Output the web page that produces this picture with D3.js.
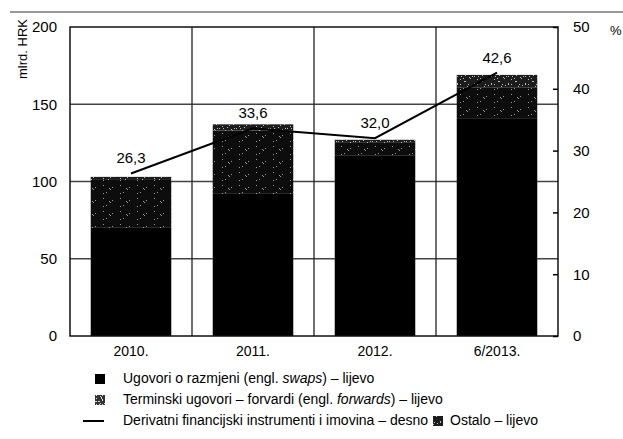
<!DOCTYPE html>
<html><head><meta charset="utf-8">
<script src="https://cdn.jsdelivr.net/npm/d3@7"></script>
<style>
body{margin:0;background:#fff;}
svg{display:block;font-family:"Liberation Sans Narrow","Arial Narrow","Liberation Sans",sans-serif;}
</style></head>
<body><svg id="c" width="623" height="439"></svg>
<script>
const categories = ["2010.", "2011.", "2012.", "6/2013."];
const swaps = [70, 92, 117, 141];
const forwards = [31, 41, 8, 20];
const ostalo = [2, 4, 2, 8];
const derivPct = [26.3, 33.6, 32.0, 42.6];
const pctLabels = ["26,3", "33,6", "32,0", "42,6"];
const leftTicks = [0, 50, 100, 150, 200];
const rightTicks = [0, 10, 20, 30, 40, 50];

const svg = d3.select("#c");
const L = 70, R = 558, T = 27, B = 336;

// patterns
const defs = svg.append("defs");
function speckle(id, bg, n, seed, col) {
  const p = defs.append("pattern").attr("id", id).attr("patternUnits", "userSpaceOnUse")
    .attr("width", 17).attr("height", 13);
  p.append("rect").attr("width", 17).attr("height", 13).attr("fill", bg);
  let s = seed;
  for (let i = 0; i < n; i++) {
    s = (s * 9301 + 49297) % 233280; const x = Math.floor(s / 233280 * 17);
    s = (s * 9301 + 49297) % 233280; const y = Math.floor(s / 233280 * 13);
    p.append("rect").attr("x", x).attr("y", y).attr("width", 1).attr("height", 1).attr("fill", col);
  }
}
speckle("pF", "#0d0d0d", 6, 7, "#999");
speckle("pO", "#1c1c1c", 18, 13, "#bbb");
speckle("pL", "#333", 40, 21, "#ddd");

// top rule
svg.append("line").attr("x1", 10).attr("x2", 623).attr("y1", 12).attr("y2", 12)
  .attr("stroke", "#333").attr("stroke-width", 1);

const x = d3.scaleBand().domain(categories).range([L, R]).padding(0);
const yL = d3.scaleLinear().domain([0, 200]).range([B, T]);
const yR = d3.scaleLinear().domain([0, 50]).range([B, T]);

// gridlines
const g = svg.append("g");
g.selectAll(".hg").data(leftTicks.filter(d => d > 0 && d < 200)).join("line")
  .attr("x1", L).attr("x2", R).attr("y1", d => yL(d)).attr("y2", d => yL(d))
  .attr("stroke", "#444").attr("stroke-width", 1.3);
g.selectAll(".vg").data(categories.slice(1)).join("line")
  .attr("x1", d => x(d)).attr("x2", d => x(d)).attr("y1", T).attr("y2", B)
  .attr("stroke", "#222").attr("stroke-width", 1.3);

// stacked bars
const rows = categories.map((c, i) => ({cat: c, swaps: swaps[i], forwards: forwards[i], ostalo: ostalo[i]}));
const stack = d3.stack().keys(["swaps", "forwards", "ostalo"])(rows);
const fills = {swaps: "#000", forwards: "url(#pF)", ostalo: "url(#pO)"};
const bw = x.bandwidth() * 0.66;
stack.forEach(layer => {
  svg.append("g").selectAll("rect").data(layer).join("rect")
    .attr("x", d => x(d.data.cat) + (x.bandwidth() - bw) / 2)
    .attr("width", bw)
    .attr("y", d => yL(d[1]))
    .attr("height", d => yL(d[0]) - yL(d[1]))
    .attr("fill", fills[layer.key]);
});

// frame
svg.append("rect").attr("x", L).attr("y", T).attr("width", R - L).attr("height", B - T)
  .attr("fill", "none").attr("stroke", "#111").attr("stroke-width", 1.5);

// line
const line = d3.line().x((d, i) => x(categories[i]) + x.bandwidth() / 2).y(d => yR(d));
svg.append("path").datum(derivPct).attr("d", line).attr("fill", "none")
  .attr("stroke", "#000").attr("stroke-width", 2);
svg.append("g").selectAll("text").data(derivPct).join("text")
  .attr("x", (d, i) => x(categories[i]) + x.bandwidth() / 2)
  .attr("y", d => yR(d) - 10)
  .attr("text-anchor", "middle").attr("font-size", 15).attr("fill", "#000")
  .text((d, i) => pctLabels[i]);

// axes
const axL = svg.append("g").attr("transform", `translate(${L},0)`)
  .call(d3.axisLeft(yL).tickValues(leftTicks).tickSize(0).tickPadding(13));
axL.select(".domain").remove();
axL.selectAll("text").attr("font-size", 15).attr("font-family", "inherit").attr("fill", "#000");

const axR = svg.append("g").attr("transform", `translate(${R},0)`)
  .call(d3.axisRight(yR).tickValues(rightTicks).tickSizeInner(-5).tickSizeOuter(0).tickPadding(15));
axR.select(".domain").remove();
axR.selectAll("line").attr("stroke", "#000").attr("stroke-width", 1.5);
axR.selectAll("text").attr("font-size", 15).attr("font-family", "inherit").attr("fill", "#000");

const axB = svg.append("g").attr("transform", `translate(0,${B})`)
  .call(d3.axisBottom(x).tickSize(0).tickPadding(10));
axB.select(".domain").remove();
axB.selectAll("text").attr("font-size", 14).attr("font-family", "inherit").attr("fill", "#000");

svg.append("text").attr("transform", "translate(27,49) rotate(-90)")
  .attr("text-anchor", "middle").attr("font-size", 13).text("mlrd. HRK");
svg.append("text").attr("x", 610).attr("y", 35).attr("font-size", 13).text("%");

// legend
const lg = svg.append("g").attr("font-size", 14);
function legText(y, x0, parts) {
  const t = lg.append("text").attr("x", x0).attr("y", y).attr("dominant-baseline", "middle");
  parts.forEach(p => t.append("tspan").attr("font-style", p[1] ? "italic" : null).text(p[0]));
  return t;
}
lg.append("rect").attr("x", 95).attr("y", 374).attr("width", 10).attr("height", 10).attr("fill", "#000");
legText(379, 123, [["Ugovori o razmjeni (engl. "], ["swaps", 1], [") – lijevo"]]);
lg.append("rect").attr("x", 95).attr("y", 395).attr("width", 10).attr("height", 10).attr("fill", "url(#pL)");
legText(400, 123, [["Terminski ugovori – forvardi (engl. "], ["forwards", 1], [") – lijevo"]]);
lg.append("line").attr("x1", 83).attr("x2", 104).attr("y1", 421).attr("y2", 421).attr("stroke", "#000").attr("stroke-width", 2);
const t3 = legText(421, 123, [["Derivatni financijski instrumenti i imovina – desno"]]);
const ex = 123 + t3.node().getComputedTextLength() + 5;
lg.append("rect").attr("x", ex).attr("y", 416).attr("width", 10).attr("height", 10).attr("fill", "url(#pO)");
legText(421, ex + 17, [["Ostalo – lijevo"]]);
</script></body></html>
